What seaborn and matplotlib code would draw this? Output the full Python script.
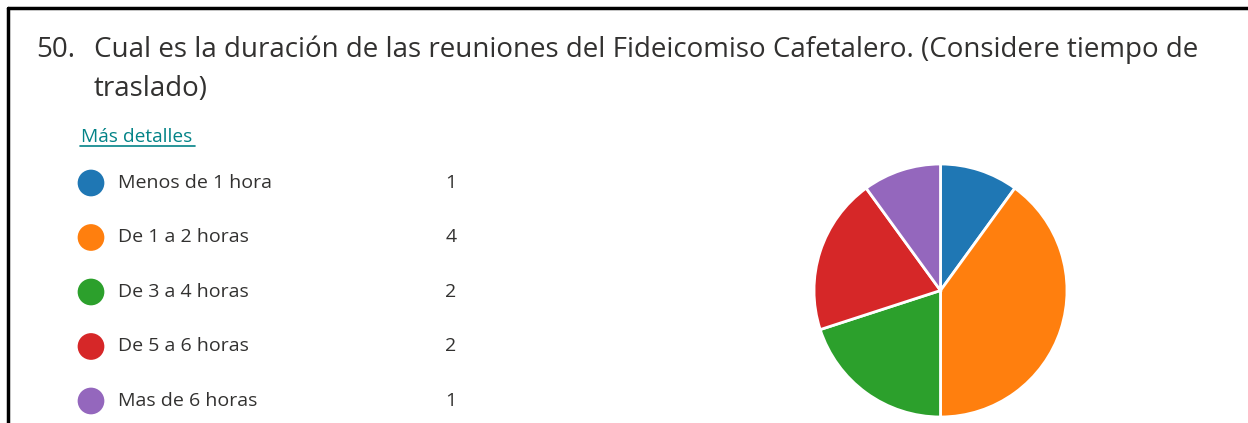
import matplotlib
matplotlib.use("Agg")
import matplotlib.pyplot as plt
import seaborn as sns
import pandas as pd
from matplotlib.lines import Line2D

sns.set_theme(style="white")
plt.rcParams['font.family'] = ['Open Sans', 'DejaVu Sans']

# ---- data ----
question_number = "50."
question_line1 = "Cual es la duración de las reuniones del Fideicomiso Cafetalero. (Considere tiempo de"
question_line2 = "traslado)"
details_label = "Más detalles"
categories = ["Menos de 1 hora", "De 1 a 2 horas", "De 3 a 4 horas", "De 5 a 6 horas", "Mas de 6 horas"]
counts = [1, 4, 2, 2, 1]

palette = sns.color_palette("tab10", len(categories))
text_color = "#323130"

W, H = 1248, 423
fig = plt.figure(figsize=(W / 100, H / 100), dpi=100)
fig.patch.set_facecolor("white")

# frame lines (top and left)
fig.add_artist(Line2D([7.5 / W, 1.0], [1 - 8 / H, 1 - 8 / H], color="black", lw=2.5, transform=fig.transFigure))
fig.add_artist(Line2D([8 / W, 8 / W], [0, 1 - 8 / H], color="black", lw=2.5, transform=fig.transFigure))

# title
fig.text(36 / W, 1 - 57 / H, question_number, fontsize=20, color=text_color, va="baseline", ha="left")
fig.text(94 / W, 1 - 57 / H, question_line1, fontsize=20, color=text_color, va="baseline", ha="left")
fig.text(94 / W, 1 - 96 / H, question_line2, fontsize=20, color=text_color, va="baseline", ha="left")
fig.text(81 / W, 1 - 137 / H, details_label, fontsize=13.8, color="#038387", va="center", ha="left")
fig.add_artist(Line2D([80 / W, 195 / W], [1 - 146 / H, 1 - 146 / H], color="#038387", lw=1.2, transform=fig.transFigure))

# legend list
ax_leg = fig.add_axes([0, 0, 0.5, 1])
ax_leg.set_xlim(0, W / 2)
ax_leg.set_ylim(4.404, -3.358)
ax_leg.axis("off")
leg_df = pd.DataFrame({"cat": categories, "count": counts, "row": range(len(categories))})
leg_df["x"] = 91
sns.scatterplot(data=leg_df, x="x", y="row", hue="cat", palette=palette, s=370,
                linewidth=0, legend=False, ax=ax_leg, clip_on=False)
for i, (c, n) in enumerate(zip(categories, counts)):
    ax_leg.text(118, i, c, fontsize=14, color=text_color, va="center", ha="left")
    ax_leg.text(451, i, str(n), fontsize=14, color=text_color, va="center", ha="center")

# pie
ax_pie = fig.add_axes([814 / W, 6 / H, 253 / W, 253 / H])
ax_pie.pie(counts, colors=palette, startangle=90, counterclock=False,
           wedgeprops=dict(edgecolor="white", linewidth=2))
ax_pie.set_xlim(-1, 1)
ax_pie.set_ylim(-1, 1)
ax_pie.axis("off")

fig.savefig("out.png", dpi=100, facecolor="white")
